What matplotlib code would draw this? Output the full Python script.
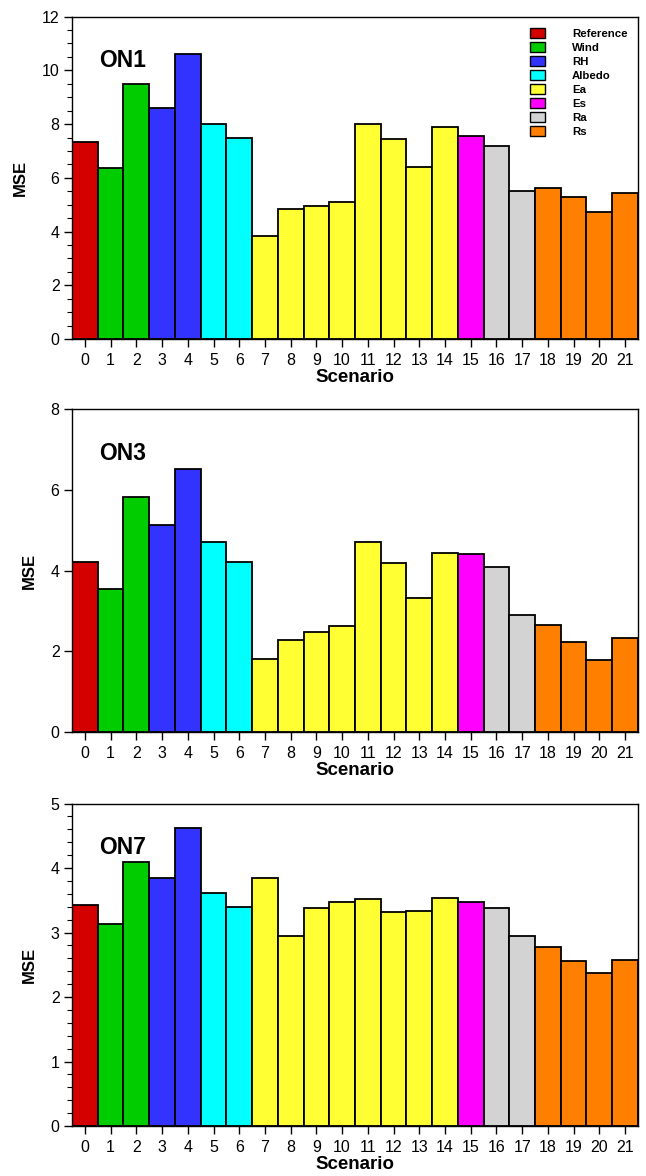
import matplotlib
matplotlib.use("Agg")
import matplotlib.pyplot as plt
from matplotlib.patches import Patch
from matplotlib.ticker import MultipleLocator
import numpy as np

plt.rcParams['font.family'] = ['Liberation Sans', 'DejaVu Sans']

scenarios = np.arange(22)
groups = ['Reference', 'Wind', 'RH', 'Albedo', 'Ea', 'Es', 'Ra', 'Rs']
group_colors = ['#d40000', '#00cc00', '#3333ff', '#00ffff', '#ffff33', '#ff00ff', '#d3d3d3', '#ff8000']
# group index of each scenario
scen_group = [0, 1, 1, 2, 2, 3, 3, 4, 4, 4, 4, 4, 4, 4, 4, 5, 6, 6, 7, 7, 7, 7]

on1 = [7.33, 6.38, 9.50, 8.59, 10.59, 8.02, 7.50, 3.83, 4.84, 4.94, 5.10,
       8.01, 7.45, 6.40, 7.88, 7.57, 7.17, 5.51, 5.61, 5.28, 4.72, 5.42]
on3 = [4.21, 3.55, 5.82, 5.14, 6.53, 4.71, 4.21, 1.82, 2.28, 2.48, 2.62,
       4.72, 4.19, 3.33, 4.45, 4.41, 4.09, 2.90, 2.66, 2.23, 1.79, 2.33]
on7 = [3.42, 3.14, 4.09, 3.85, 4.62, 3.61, 3.39, 3.84, 2.95, 3.38, 3.47,
       3.52, 3.32, 3.34, 3.53, 3.48, 3.38, 2.94, 2.78, 2.56, 2.38, 2.58]

panels = [
    ('ON1', on1, 12, 2, 0.5),
    ('ON3', on3, 8, 2, None),
    ('ON7', on7, 5, 1, 0.2),
]
bottoms = [0.7117, 0.3776, 0.0425]

fig = plt.figure(figsize=(6.46, 11.76), dpi=100)
bar_colors = [group_colors[g] for g in scen_group]

for (name, vals, ymax, major, minor), b in zip(panels, bottoms):
    ax = fig.add_axes([0.1115, b, 0.876, 0.2742])
    ax.bar(scenarios, vals, width=1.0, color=bar_colors, edgecolor='black', linewidth=1.3, zorder=2)
    ax.set_xlim(-0.5, 21.5)
    ax.set_ylim(0, ymax)
    ax.set_xticks(scenarios)
    ax.yaxis.set_major_locator(MultipleLocator(major))
    if minor:
        ax.yaxis.set_minor_locator(MultipleLocator(minor))
    ax.tick_params(axis='both', which='major', direction='out', length=6, width=1,
                   labelsize=11.5, pad=3)
    ax.tick_params(axis='x', which='major', pad=4)
    ax.tick_params(axis='y', which='minor', direction='out', length=3.5, width=0.8)
    ax.tick_params(axis='x', which='minor', bottom=False)
    for s in ax.spines.values():
        s.set_linewidth(1.0)
    ax.set_ylabel('MSE', fontsize=12, fontweight='bold', labelpad=10)
    ax.set_xlabel('Scenario', fontsize=13.5, fontweight='bold', labelpad=1)
    ax.text(0.048, 0.865, name, transform=ax.transAxes, fontsize=16.5,
            fontweight='bold', va='center', ha='left')
    if name == 'ON1':
        handles = [Patch(facecolor=c, edgecolor='black', linewidth=1.0) for c in group_colors]
        leg = ax.legend(handles, groups, loc='upper left', bbox_to_anchor=(0.809, 0.965),
                        frameon=False, borderpad=0, borderaxespad=0,
                        handlelength=1.3, handleheight=0.97, handletextpad=2.4,
                        labelspacing=0.28, prop={'size': 8.2, 'weight': 'bold'})

fig.savefig('out.png', dpi=100)
